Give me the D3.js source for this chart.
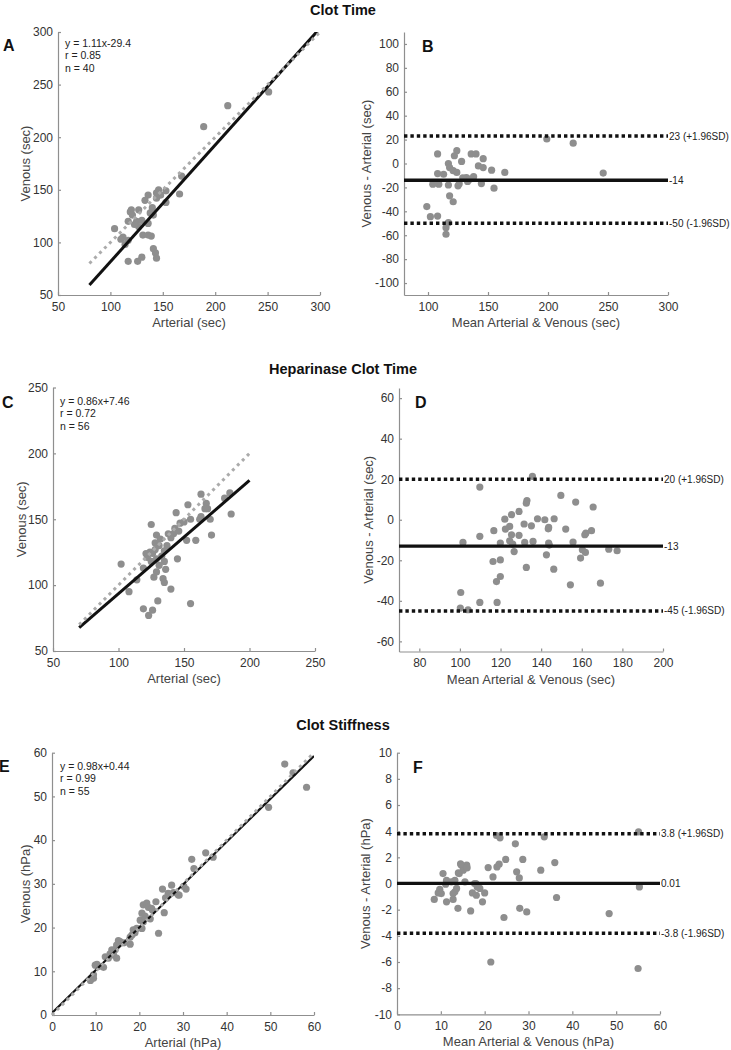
<!DOCTYPE html>
<html>
<head>
<meta charset="utf-8">
<script src="https://cdn.jsdelivr.net/npm/d3@7"></script>
<style>
  body { margin: 0; background: #fff; }
  svg text { font-family: "Liberation Sans", Arial, Helvetica, sans-serif; }
</style>
</head>
<body>
<script>

// ---- Clot Time (A, B) ----
var aArterial = [251, 212, 189, 168, 166, 153, 153, 146, 144, 144, 136, 133, 119, 120, 127, 138, 141, 117, 125, 130,
                 136, 104, 127, 131, 136, 112, 117, 114, 141, 143, 144, 130, 126, 117, 121, 123, 140, 139, 148, 110];
var aVenous   = [243, 230, 210, 163, 146, 149, 138, 150, 147, 142, 145, 140, 129, 131, 131, 128, 126, 120, 120, 121,
                 118, 113, 115, 107, 107, 105, 102, 98, 94, 90, 85, 86, 82, 82, 126, 117, 133, 106, 145, 103];
var aFit = ['y = 1.11x-29.4', 'r = 0.85', 'n = 40'];
var aSlope = 1.11, aIntercept = -29.4;

var bMean = [199, 221, 246, 108, 124, 122, 128, 136, 140, 146, 117, 118, 121, 124, 142, 146, 153, 164, 108, 132,
             138, 133, 104, 109, 117, 125, 144.5, 155, 118, 121, 99, 102, 108, 117, 115, 115, 135, 129, 113, 126];
var bDiff = [20.5, 17, -8, 8, 10.7, 6.5, 1.7, 8, 8, 4, 0, -3.4, -6, -7.5, -2, -3.4, -5.6, -7.5, -8.4, -11.7,
             -11, -15, -17.3, -17.3, -18, -18.7, -16.8, -20.6, -27, -32, -36, -44.5, -44, -49.5, -53.7, -59.2, -13, -12, -9, -17];
var bLines = [23, -14, -50];
var bLineLabels = ['23 (+1.96SD)', '-14', '-50 (-1.96SD)'];

// ---- Heparinase Clot Time (C, D) ----
var cArterial = [163, 185, 181, 167, 168, 166, 153, 186, 170, 163, 155, 144, 125, 147, 143, 138, 142, 129, 171, 152,
                 159, 128, 131, 135, 124, 126, 122, 129, 135, 145, 102, 119, 129, 127, 134, 135, 114, 108, 140, 130,
                 155, 119, 126, 123, 162, 132, 137, 128, 133, 125, 140, 146, 121, 136, 131, 150];
var cVenous   = [169, 170, 166, 162, 158, 158, 161, 154, 150, 152, 150, 155, 146, 147, 143, 139, 139, 138, 138, 134,
                 134, 132, 130, 126, 125, 124, 121, 120, 118, 120, 116, 113, 110, 106, 105, 102, 104, 95, 97, 88,
                 86, 82, 81, 77, 150, 135, 130, 127, 122, 118, 136, 141, 124, 112, 115, 148];
var cFit = ['y = 0.86x+7.46', 'r = 0.72', 'n = 56'];
var cSlope = 0.86, cIntercept = 7.46;

var dMean = [135.7, 109.8, 149.7, 157, 165.6, 133, 132.7, 129.1, 125.4, 122.1, 138.2, 141.8, 146.4, 131.6, 135.2, 124.5,
             122.4, 143.7, 116.7, 152.1, 164.8, 161.5, 162, 125.4, 129.1, 109.8, 101.5, 119.9, 124.5, 131.9, 136, 143.7,
             155.7, 160.3, 161.8, 173.3, 177.4, 126.7, 142.6, 159.4, 116.3, 119.9, 132.7, 146.2, 119.9, 118, 154.4, 169.2,
             100.4, 100.2, 104, 109.8, 118.3, 144, 126, 143.5];
var dDiff = [21.4, 16.1, 12, 8.7, 6.3, 9.5, 8.2, 4.1, 2.5, 0.3, 0.5, 0, 0.5, -2.1, -3, -3.3,
             -4.6, -3.8, -5.4, -4.6, -5.4, -7.4, -6.6, -7.4, -7.7, -8.2, -11.2, -11.5, -10.4, -11.2, -10.7, -11.5,
             -11, -14.8, -16.1, -14.5, -15.3, -15.7, -17.3, -18.9, -20.6, -19.8, -23.5, -24.4, -28, -30.5, -32.1, -31.3,
             -35.9, -43.6, -44.4, -40.8, -40.8, -12.5, -12, -4.5];
var dLines = [20, -13, -45];
var dLineLabels = ['20 (+1.96SD)', '-13', '-45 (-1.96SD)'];

// ---- Clot Stiffness (E, F) ----
var eArterial = [53.3, 55.2, 58.3, 49.6, 35.2, 36.9, 32, 32.5, 30.7, 25.3, 27.4, 27.8, 28.9, 23.8, 20.9, 21.7, 22.1, 22.8, 20.6,
                 25.7, 20.2, 20.9, 24.4, 18.6, 19.4, 18.3, 17.9, 17.9, 15.6, 14.8, 14.5, 13.7, 14.1, 14.8, 12.2, 12.9, 9.9,
                 10.6, 11.8, 9.5, 8.8, 9.5, 29.1, 26.6, 20.6, 13.3, 15.2, 10.3, 22.5, 16.5, 19, 21.3, 23, 26, 30.2];
var eVenous   = [57.4, 55.4, 52.1, 47.5, 37.1, 36.1, 35.6, 33.5, 28.8, 28.8, 29.7, 28, 27.5, 25.9, 25.2, 25.6, 24.6, 24.4, 23.3,
                 23.4, 21.7, 21.3, 18.7, 19.5, 19.8, 18.3, 17.8, 16.2, 16.8, 16, 15, 14.9, 13.7, 13, 13.3, 13, 11.4,
                 11.1, 10.9, 9.2, 7.9, 8.4, 27.4, 27.8, 19.8, 14, 17, 11.6, 22, 16.5, 18.8, 22.6, 24, 26.8, 29.4];
var eFit = ['y = 0.98x+0.44', 'r = 0.99', 'n = 55'];
var eSlope = 0.98, eIntercept = 0.44;

var fMean = [55.1, 55.3, 55, 48.4, 21.4, 33.6, 36, 36.4, 32.8, 27, 27.3, 27.9, 28.7, 28, 29.6, 24.4, 24.8, 22.7, 23.5,
             23.3, 22.8, 20.8, 21.9, 14.7, 15.9, 15.1, 14.2, 10.5, 11.3, 12.4, 13.2, 15.5, 18, 18.3, 18.9, 9.75, 9.4,
             10.1, 13.6, 13.2, 12.8, 17.2, 18.1, 20, 8.5, 11.3, 12.8, 13.9, 16.8, 19.5, 11.1, 14, 16, 14.5, 17.7];
var fDiff = [3.95, -0.26, -6.5, -2.3, -6, 3.57, 1.6, -1.07, 1.02, 3.03, 0.89, 0.43, 1.84, -1.9, -2.17, -2.6, 1.84, 3.67, 3.49,
             1.48, 1.27, 1.22, 0.5, 1.4, 1.4, 1.02, 0.76, 0.76, 0.25, 0.12, 0.25, 0.12, 0, -0.26, -0.38, -0.44, -0.72,
             -0.77, -0.38, -0.64, -0.77, -0.72, -0.9, -0.72, -1.22, -1.4, -1.22, -1.9, -2.1, -1.4, -0.05, 0.81, 1.2, 1.5, 0];
var fLines = [3.8, 0.01, -3.8];
var fLineLabels = ['3.8 (+1.96SD)', '0.01', '-3.8 (-1.96SD)'];

// ---- tick values ----
var ticks50to300 = [50, 100, 150, 200, 250, 300];
var ticks100to300 = [100, 150, 200, 250, 300];
var ticksDiffB = [-100, -80, -60, -40, -20, 0, 20, 40, 60, 80, 100];
var ticks50to250 = [50, 100, 150, 200, 250];
var ticks80to200 = [80, 100, 120, 140, 160, 180, 200];
var ticksDiffD = [-60, -40, -20, 0, 20, 40, 60];
var ticks0to60 = [0, 10, 20, 30, 40, 50, 60];
var ticksDiffF = [-10, -8, -6, -4, -2, 0, 2, 4, 6, 8, 10];

var titles = ['Clot Time', 'Heparinase Clot Time', 'Clot Stiffness'];

var svg = d3.select('body').append('svg').attr('width', 731).attr('height', 1050);

var axisColor = '#8f8f8f', textColor = '#333', dotColor = '#8e8e8e';
var clipId = 0;
// plain hyphen for negatives, like the original figure
var plain = function (d) { return String(d); };

function makeAxes(p) {
  var x = d3.scaleLinear().domain(p.xDomain).range(p.xRange);
  var y = d3.scaleLinear().domain(p.yDomain).range(p.yRange);
  var g = svg.append('g');

  g.append('g')
    .attr('transform', 'translate(0,' + p.yRange[0] + ')')
    .call(d3.axisBottom(x).tickValues(p.xTicks).tickFormat(plain).tickSizeInner(-3).tickSizeOuter(0).tickPadding(7));
  g.append('g')
    .attr('transform', 'translate(' + p.xRange[0] + ',0)')
    .call(d3.axisLeft(y).tickValues(p.yTicks).tickFormat(plain).tickSizeInner(-3).tickSizeOuter(0).tickPadding(5));

  g.selectAll('path, line').attr('stroke', axisColor).attr('stroke-width', 1.2);
  g.selectAll('text').attr('fill', textColor).style('font-size', '12px');

  g.append('text')
    .attr('x', (p.xRange[0] + p.xRange[1]) / 2)
    .attr('y', p.yRange[0] + 32)
    .attr('text-anchor', 'middle')
    .attr('fill', '#444')
    .style('font-size', '13px')
    .text(p.xLabel);

  g.append('text')
    .attr('transform', 'translate(' + (p.xRange[0] + p.yLabOff) + ',' + (p.yRange[0] + p.yRange[1]) / 2 + ') rotate(-90)')
    .attr('text-anchor', 'middle')
    .attr('dy', '0.35em')
    .attr('fill', '#444')
    .style('font-size', '13px')
    .text(p.yLabel);

  svg.append('text')
    .attr('x', p.letterPos[0]).attr('y', p.letterPos[1])
    .style('font-size', '16px').style('font-weight', 'bold')
    .attr('fill', '#111')
    .text(p.letter);

  return { x: x, y: y };
}

function dots(s, xs, ys) {
  svg.append('g').selectAll('circle')
    .data(xs)
    .enter().append('circle')
    .attr('cx', function (d) { return s.x(d); })
    .attr('cy', function (d, i) { return s.y(ys[i]); })
    .attr('r', 3.6)
    .attr('fill', dotColor);
}

function scatterPanel(p) {
  var s = makeAxes(p);
  dots(s, p.xs, p.ys);

  // clip the fit line to the plot box
  clipId++;
  svg.append('clipPath').attr('id', 'clip' + clipId)
    .append('rect')
    .attr('x', p.xRange[0]).attr('y', p.yRange[1])
    .attr('width', p.xRange[1] - p.xRange[0]).attr('height', p.yRange[0] - p.yRange[1]);

  var line = d3.line().x(function (d) { return s.x(d[0]); }).y(function (d) { return s.y(d[1]); });
  var fit = p.lineSpan.map(function (v) { return [v, p.slope * v + p.intercept]; });
  var ident = p.lineSpan.map(function (v) { return [v, v]; });

  svg.append('path').datum(fit)
    .attr('clip-path', 'url(#clip' + clipId + ')')
    .attr('d', line).attr('fill', 'none')
    .attr('stroke', '#111').attr('stroke-width', p.fitWidth);

  svg.append('path').datum(ident)
    .attr('d', line).attr('fill', 'none')
    .attr('stroke', '#ababab').attr('stroke-width', 3)
    .attr('stroke-dasharray', '3,4');

  svg.append('g').selectAll('text')
    .data(p.notes)
    .enter().append('text')
    .attr('x', p.notePos[0])
    .attr('y', function (d, i) { return p.notePos[1] + i * 12.3; })
    .attr('fill', '#222')
    .style('font-size', '10.5px')
    .text(function (d) { return d; });
}

function baPanel(p) {
  var s = makeAxes(p);
  dots(s, p.xs, p.ys);

  var g = svg.append('g');
  p.lines.forEach(function (v, i) {
    g.append('line')
      .attr('x1', p.xRange[0]).attr('x2', p.xRange[1])
      .attr('y1', s.y(v)).attr('y2', s.y(v))
      .attr('stroke', '#111')
      .attr('stroke-width', 3.4)
      .attr('stroke-dasharray', i === 1 ? null : '3.4,3');
    g.append('text')
      .attr('x', p.xRange[1] + 1)
      .attr('y', s.y(v))
      .attr('dy', '0.35em')
      .attr('fill', '#222')
      .style('font-size', '10px')
      .text(p.lineLabels[i]);
  });
}

// titles
[[titles[0], 15], [titles[1], 374], [titles[2], 730]].forEach(function (t) {
  svg.append('text')
    .attr('x', 343).attr('y', t[1])
    .attr('text-anchor', 'middle')
    .style('font-size', '14.5px').style('font-weight', 'bold')
    .attr('fill', '#111')
    .text(t[0]);
});

scatterPanel({
  xs: aArterial, ys: aVenous, xDomain: [50, 300], yDomain: [50, 300],
  xRange: [58, 320], yRange: [295, 32], xTicks: ticks50to300, yTicks: ticks50to300,
  xLabel: 'Arterial (sec)', yLabel: 'Venous (sec)', yLabOff: -33,
  letter: 'A', letterPos: [3, 51], notes: aFit, notePos: [65, 47],
  slope: aSlope, intercept: aIntercept, lineSpan: [80, 300], fitWidth: 3
});
baPanel({
  xs: bMean, ys: bDiff, xDomain: [80, 300], yDomain: [-110, 110],
  xRange: [404, 668], yRange: [295, 32], xTicks: ticks100to300, yTicks: ticksDiffB,
  xLabel: 'Mean Arterial & Venous (sec)', yLabel: 'Venous - Arterial (sec)', yLabOff: -38,
  letter: 'B', letterPos: [422, 52], lines: bLines, lineLabels: bLineLabels
});
scatterPanel({
  xs: cArterial, ys: cVenous, xDomain: [50, 250], yDomain: [50, 250],
  xRange: [53, 315], yRange: [651, 387.5], xTicks: ticks50to250, yTicks: ticks50to250,
  xLabel: 'Arterial (sec)', yLabel: 'Venous (sec)', yLabOff: -32,
  letter: 'C', letterPos: [2, 408], notes: cFit, notePos: [60, 405],
  slope: cSlope, intercept: cIntercept, lineSpan: [70, 200], fitWidth: 3
});
baPanel({
  xs: dMean, ys: dDiff, xDomain: [70, 200], yDomain: [-65, 65],
  xRange: [399, 663], yRange: [651.5, 388], xTicks: ticks80to200, yTicks: ticksDiffD,
  xLabel: 'Mean Arterial & Venous (sec)', yLabel: 'Venous - Arterial (sec)', yLabOff: -31,
  letter: 'D', letterPos: [415, 408], lines: dLines, lineLabels: dLineLabels
});
scatterPanel({
  xs: eArterial, ys: eVenous, xDomain: [0, 60], yDomain: [0, 60],
  xRange: [52, 314], yRange: [1015, 752.7], xTicks: ticks0to60, yTicks: ticks0to60,
  xLabel: 'Arterial (hPa)', yLabel: 'Venous (hPa)', yLabOff: -27,
  letter: 'E', letterPos: [-1, 772], notes: eFit, notePos: [60, 770],
  slope: eSlope, intercept: eIntercept, lineSpan: [0, 60], fitWidth: 2.2
});
baPanel({
  xs: fMean, ys: fDiff, xDomain: [0, 60], yDomain: [-10, 10],
  xRange: [397, 660], yRange: [1014.3, 752.7], xTicks: ticks0to60, yTicks: ticksDiffF,
  xLabel: 'Mean Arterial & Venous (hPa)', yLabel: 'Venous - Arterial (hPa)', yLabOff: -32,
  letter: 'F', letterPos: [413, 773], lines: fLines, lineLabels: fLineLabels
});

</script>
</body>
</html>
